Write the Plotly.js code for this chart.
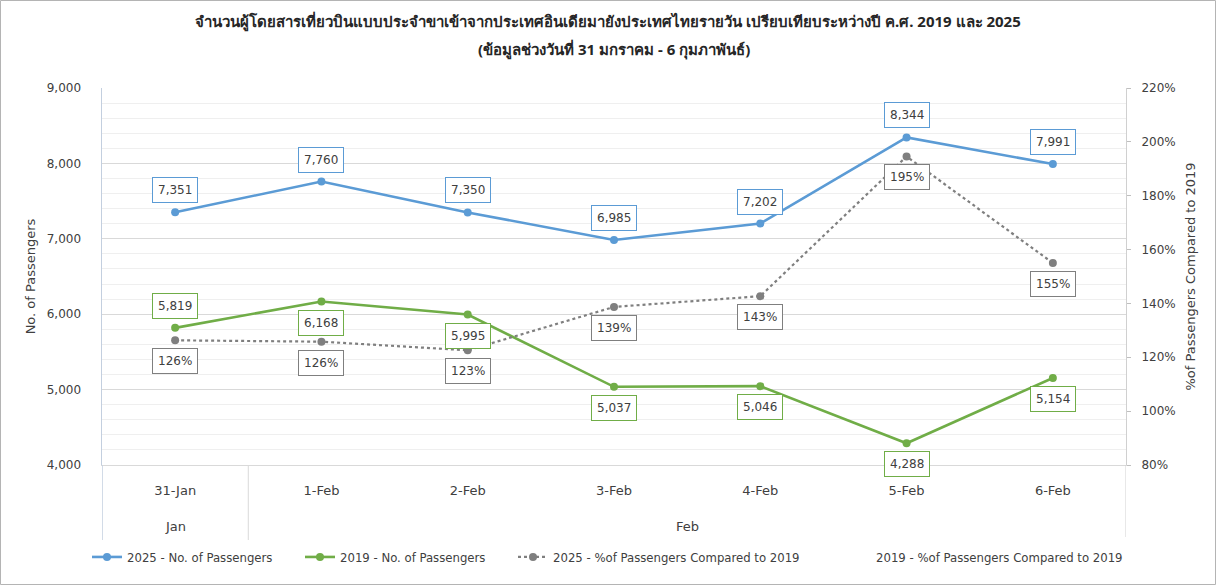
<!DOCTYPE html>
<html><head><meta charset="utf-8">
<script src="https://cdn.plot.ly/plotly-3.0.1.min.js"></script>
<style>html,body{margin:0;padding:0;background:#fff}#chart{width:1216px;height:585px}</style>
</head><body><div id="chart"></div>
<script>
const months = ['Jan','Feb','Feb','Feb','Feb','Feb','Feb'];
const days = ['31-Jan','1-Feb','2-Feb','3-Feb','4-Feb','5-Feb','6-Feb'];
const pax2025 = [7351,7760,7350,6985,7202,8344,7991];
const pax2019 = [5819,6168,5995,5037,5046,4288,5154];
const pct2025 = [1.263,1.258,1.226,1.387,1.427,1.946,1.550];
const pct2019 = [1,1,1,1,1,1,1];
const seriesNames = ['2025 - No. of Passengers','2019 - No. of Passengers','2025 - %of Passengers Compared to 2019','2019 - %of Passengers Compared to 2019'];
const titleLine1 = 'จำนวนผู้โดยสารเที่ยวบินแบบประจำขาเข้าจากประเทศอินเดียมายังประเทศไทยรายวัน เปรียบเทียบระหว่างปี ค.ศ. 2019 และ 2025';
const titleLine2 = '(ข้อมูลช่วงวันที่ 31 มกราคม - 6 กุมภาพันธ์)';

const FONT = 'DejaVu Sans, Verdana, sans-serif';
const TFONT = 'Tahoma, Noto Sans, DejaVu Sans, sans-serif';
const TXT = '#404040';
const BLUE = '#5b9bd5', GREEN = '#70ad47', GRAY = '#7f7f7f';

const W=1216,H=585,L=102,R=90,T=88,B=120;
const pw=W-L-R, ph=H-T-B;
const py = p => (T+ph-p)/ph;   // pixel row -> paper y
const px = p => (p-L)/pw;      // pixel col -> paper x

const traces = [
  {x:days, y:pax2025, name:seriesNames[0], type:'scatter', mode:'lines+markers', legend:'legend',
   line:{color:BLUE,width:2.6}, marker:{color:BLUE,size:8}},
  {x:days, y:pax2019, name:seriesNames[1], type:'scatter', mode:'lines+markers', legend:'legend2',
   line:{color:GREEN,width:2.6}, marker:{color:GREEN,size:8}},
  {x:days, y:pct2025, name:seriesNames[2], type:'scatter', mode:'lines+markers', yaxis:'y2', legend:'legend3',
   line:{color:GRAY,width:2.2,dash:'dot'}, marker:{color:GRAY,size:8}},
  {x:days, y:pct2019, name:seriesNames[3], type:'scatter', mode:'lines', yaxis:'y2', legend:'legend4',
   line:{color:'rgba(0,0,0,0)',width:1}, hoverinfo:'skip'}
];

const annotations = [];
const fmtN = v => v.toLocaleString('en-US');
const fmtP = v => Math.round(v*100)+'%';
function lab(i, v, yref, color, shift, fmt){
  annotations.push({x:i, y:v, xref:'x', yref:yref, text:fmt(v), showarrow:false,
    yshift:shift, bgcolor:'#ffffff', bordercolor:color, borderwidth:1, borderpad:5,
    font:{family:FONT,size:12,color:TXT}});
}
pax2025.forEach((v,i)=>lab(i,v,'y',BLUE,22,fmtN));
pax2019.forEach((v,i)=>lab(i,v,'y',GREEN,i===0?22:-21,fmtN));
pct2025.forEach((v,i)=>lab(i,v,'y2',GRAY,-21,fmtP));

// group (month) labels and dividers
const groups = [];
months.forEach((m,i)=>{
  if(!groups.length || groups[groups.length-1].name!==m) groups.push({name:m,start:i,end:i});
  else groups[groups.length-1].end=i;
});
const shapes = [];
groups.forEach((g,k)=>{
  annotations.push({x:(g.start+g.end)/2, y:py(526), xref:'x', yref:'paper', text:g.name,
    showarrow:false, yanchor:'middle', font:{family:FONT,size:13,color:TXT}});
  shapes.push({type:'line', xref:'x', yref:'paper', x0:g.start-0.5, x1:g.start-0.5, y0:0, y1:py(540),
    line:{color:k===0?'#c3cfdf':'#d9d9d9', width:k===0?1.5:1}});
});
shapes.push({type:'line', xref:'x', yref:'paper', x0:months.length-0.5, x1:months.length-0.5, y0:0, y1:py(537),
  line:{color:'#d0d0d0', width:1}});
annotations.push({x:0.5, y:py(50), xref:'paper', yref:'paper', text:'<b>'+titleLine2+'</b>', showarrow:false,
  yanchor:'middle', font:{family:TFONT,size:15,color:'#262626'}});
// outer frame
shapes.push({type:'rect', xref:'paper', yref:'paper', x0:px(0.5), x1:px(W-0.5), y0:py(H-0.5), y1:py(0.5),
  line:{color:'#b4b4b4', width:1}, fillcolor:'rgba(0,0,0,0)', layer:'above'});

const LFONT = {family:'DejaVu Sans Condensed, DejaVu Sans, sans-serif',size:13,color:TXT};
function leg(textStart){
  return {orientation:'h', x:px(textStart-40), xanchor:'left', y:py(557), yanchor:'middle',
    font:LFONT, itemwidth:30, bgcolor:'rgba(0,0,0,0)'};
}

const layout = {
  width:W, height:H,
  margin:{l:L,r:R,t:T,b:B},
  paper_bgcolor:'#ffffff', plot_bgcolor:'#ffffff',
  font:{family:FONT,size:12,color:TXT},
  title:{text:'<b>'+titleLine1+'</b>', x:0.5, xanchor:'center', xref:'container',
    y:1-22/H, yanchor:'middle', yref:'container',
    font:{family:TFONT,size:15,color:'#262626'}},
  xaxis:{type:'category', range:[-0.5, days.length-0.5], showgrid:false, showline:true, linecolor:'#d9d9d9', linewidth:1,
    ticks:'', ticklabelstandoff:13, tickfont:{family:FONT,size:13,color:TXT}, zeroline:false, fixedrange:true},
  yaxis:{range:[4000,9000], dtick:1000, tickformat:',d', showgrid:true, gridcolor:'#d9d9d9',
    minor:{dtick:200, showgrid:true, gridcolor:'#efefef'},
    showline:true, linecolor:'#c3cfdf', linewidth:1.5, ticks:'', zeroline:false, ticklabelstandoff:17,
    tickfont:{family:FONT,size:12,color:TXT},
    title:{text:'No. of Passengers', font:{family:FONT,size:13,color:TXT}, standoff:8}},
  yaxis2:{overlaying:'y', side:'right', range:[0.8,2.2], dtick:0.2, tickformat:'.0%',
    showgrid:false, showline:true, linecolor:'#d0d0d0', ticks:'outside', ticklen:4, tickcolor:'#bfbfbf',
    zeroline:false, ticklabelstandoff:8, tickfont:{family:FONT,size:12,color:TXT},
    title:{text:'%of Passengers Compared to 2019', font:{family:FONT,size:13,color:TXT}, standoff:11}},
  legend:leg(127), legend2:leg(340), legend3:leg(553), legend4:leg(876),
  annotations:annotations,
  shapes:shapes,
  showlegend:true
};
Plotly.newPlot('chart', traces, layout, {displayModeBar:false, staticPlot:true});
</script></body></html>
